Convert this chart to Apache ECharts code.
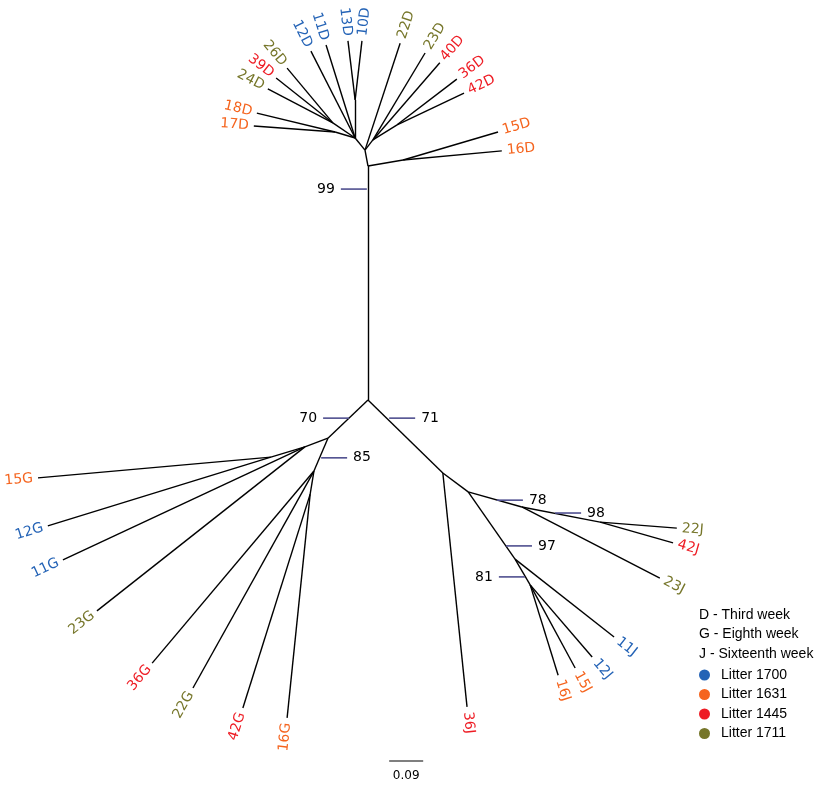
<!DOCTYPE html>
<html lang="en">
<head>
  <meta charset="UTF-8">
  <title>Unrooted tree - D / G / J samples</title>
  <script src="https://cdn.jsdelivr.net/npm/echarts@6.0.0/dist/echarts.min.js"></script>
  <style>
    html, body, #main {
      margin: 0;
      padding: 0;
      width: 100%;
      height: 100%;
      background: #fff;
    }
  </style>
</head>
<body>
  <div id="main"></div>

  <script>
    // tree nodes, root at (0, 0), units = substitutions per site
    const nodeName = [
      'root', 'a', 'b', 'c', 'n1', 'n2', 'n4', 't1', 't2', 's1',
      '17D', '18D', '24D', '39D', '26D', '12D', '11D', '13D', '10D',
      '22D', '23D', '40D', '36D', '42D', '15D', '16D',
      'l1', 'l2', 'l3', 'l4', 'l5',
      '15G', '12G', '11G', '23G', '36G', '22G', '42G', '16G',
      'r1', 'r2', 'r3', 'r4', 'r5', 'r6',
      '36J', '22J', '42J', '23J', '11J', '12J', '15J', '16J'
    ];
    const nodeParent = [
      null, 'root', 'a', 'b', 'c', 'c', 'c', 'b', 't1', 'a',
      'n1', 'n1', 'n2', 'n2', 'n2', 'c', 'c', 'n4', 'n4',
      'b', 't1', 't1', 't2', 't2', 's1', 's1',
      'root', 'l1', 'l2', 'l1', 'l4',
      'l3', 'l3', 'l2', 'l2', 'l4', 'l4', 'l5', 'l5',
      'root', 'r1', 'r2', 'r3', 'r2', 'r5',
      'r1', 'r4', 'r4', 'r3', 'r5', 'r6', 'r6', 'r6'
    ];
    const nodeX = [
      0, 0, -0.008, -0.034, -0.087, -0.093, -0.034, 0.013, 0.077, 0.093,
      -0.302, -0.294, -0.265, -0.243, -0.214, -0.151, -0.111, -0.053, -0.016,
      0.085, 0.151, 0.190, 0.235, 0.254, 0.344, 0.354,
      -0.106, -0.167, -0.257, -0.143, -0.153,
      -0.873, -0.847, -0.807, -0.717, -0.571, -0.463, -0.331, -0.214,
      0.198, 0.265, 0.407, 0.614, 0.389, 0.429,
      0.262, 0.817, 0.807, 0.772, 0.651, 0.593, 0.548, 0.503
    ];
    const nodeY = [
      0, 0.619, 0.661, 0.693, 0.709, 0.733, 0.794, 0.688, 0.728, 0.635,
      0.725, 0.759, 0.823, 0.852, 0.878, 0.923, 0.939, 0.950, 0.950,
      0.944, 0.918, 0.892, 0.849, 0.812, 0.709, 0.659,
      -0.101, -0.124, -0.151, -0.188, -0.249,
      -0.206, -0.333, -0.423, -0.558, -0.696, -0.762, -0.815, -0.841,
      -0.193, -0.243, -0.283, -0.323, -0.421, -0.489,
      -0.812, -0.339, -0.378, -0.471, -0.627, -0.680, -0.709, -0.728
    ];

    // bootstrap support, anchored on the branch it belongs to
    const bootValue = [99, 70, 85, 71, 78, 98, 97, 81];
    const bootX = [-0.003, -0.050, -0.124, 0.056, 0.341, 0.495, 0.365, 0.415];
    const bootY = [0.558, -0.048, -0.153, -0.048, -0.265, -0.299, -0.386, -0.468];
    const bootSide = [-1, -1, 1, 1, 1, 1, 1, -1];

    const litterNames = ['Litter 1700', 'Litter 1631', 'Litter 1445', 'Litter 1711'];
    const litterSamples = [[10, 11, 12, 13], [15, 16, 17, 18], [36, 39, 40, 42], [22, 23, 24, 26]];
    const litterColors = ['#2463b6', '#f5641e', '#ee1c24', '#76762a'];
    const weekLabels = ['D - Third week', 'G - Eighth week', 'J - Sixteenth week'];

    const scaleBarLength = 0.09;
    const scaleBarAt = [0.056, -0.955];

    const idx = name => nodeName.indexOf(name);

    const branches = [];
    nodeName.forEach((n, i) => {
      if (nodeParent[i] === null) return;
      const p = idx(nodeParent[i]);
      branches.push({ coords: [[nodeX[p], nodeY[p]], [nodeX[i], nodeY[i]]] });
    });

    // tips grouped by litter
    const tipNames = litterNames.map(() => []);
    const tipData = litterNames.map(() => []);
    nodeName.forEach((n, i) => {
      const num = parseInt(n, 10);
      if (isNaN(num)) return;
      const k = litterSamples.findIndex(s => s.includes(num));
      const p = idx(nodeParent[i]);
      tipNames[k].push(n);
      tipData[k].push([nodeX[i], nodeY[i], nodeX[p], nodeY[p]]);
    });

    const labelFont = '14px "DejaVu Sans"';

    function tipRenderer(k) {
      return function (params, api) {
        const tip = api.coord([api.value(0), api.value(1)]);
        const par = api.coord([api.value(2), api.value(3)]);
        const dx = tip[0] - par[0];
        const dy = tip[1] - par[1];
        const len = Math.hypot(dx, dy);
        const ang = Math.atan2(-dy, dx);
        const right = dx >= 0;
        return {
          type: 'text',
          x: tip[0] + dx / len * 5,
          y: tip[1] + dy / len * 5,
          rotation: right ? ang : ang + Math.PI,
          style: {
            text: tipNames[k][params.dataIndex],
            fill: litterColors[k],
            font: labelFont,
            align: right ? 'left' : 'right',
            verticalAlign: 'middle'
          }
        };
      };
    }

    const series = [{
      type: 'lines',
      coordinateSystem: 'cartesian2d',
      silent: true,
      lineStyle: { color: '#000', width: 1.4, opacity: 1 },
      data: branches,
      z: 2
    }];

    litterNames.forEach((ln, k) => {
      series.push({
        name: ln,
        type: 'custom',
        renderItem: tipRenderer(k),
        itemStyle: { color: litterColors[k] },
        data: tipData[k],
        z: 3
      });
    });

    series.push({
      type: 'custom',
      silent: true,
      data: bootValue.map((v, i) => [bootX[i], bootY[i], bootSide[i], v]),
      renderItem: function (params, api) {
        const a = api.coord([api.value(0), api.value(1)]);
        const side = api.value(2);
        const b = a[0] + side * 26;
        return {
          type: 'group',
          children: [{
            type: 'line',
            shape: { x1: a[0], y1: a[1], x2: b, y2: a[1] },
            style: { stroke: '#4f4f8f', lineWidth: 1.6 }
          }, {
            type: 'text',
            x: b + side * 6,
            y: a[1],
            style: {
              text: String(api.value(3)),
              fill: '#000',
              font: labelFont,
              align: side > 0 ? 'left' : 'right',
              verticalAlign: 'middle'
            }
          }]
        };
      },
      z: 4
    });

    series.push({
      type: 'custom',
      silent: true,
      data: [[scaleBarAt[0], scaleBarAt[1], scaleBarLength]],
      renderItem: function (params, api) {
        const a = api.coord([api.value(0), api.value(1)]);
        const b = api.coord([api.value(0) + api.value(2), api.value(1)]);
        return {
          type: 'group',
          children: [{
            type: 'line',
            shape: { x1: a[0], y1: a[1], x2: b[0], y2: b[1] },
            style: { stroke: '#000', lineWidth: 1.2 }
          }, {
            type: 'text',
            x: (a[0] + b[0]) / 2,
            y: a[1] + 15,
            style: {
              text: String(api.value(2)),
              fill: '#000',
              font: '12px "DejaVu Sans"',
              align: 'center',
              verticalAlign: 'middle'
            }
          }]
        };
      }
    });

    const chart = echarts.init(document.getElementById('main'));
    chart.setOption({
      animation: false,
      backgroundColor: '#fff',
      title: {
        text: weekLabels.join('\n'),
        left: 699,
        top: 605,
        padding: 0,
        textStyle: {
          fontFamily: 'Liberation Sans',
          fontSize: 14,
          fontWeight: 'normal',
          color: '#000',
          lineHeight: 19.5
        }
      },
      legend: {
        data: litterNames,
        orient: 'vertical',
        left: 699,
        top: 668,
        padding: 0,
        icon: 'circle',
        itemWidth: 11,
        itemHeight: 11,
        itemGap: 5.5,
        selectedMode: false,
        textStyle: {
          fontFamily: 'Liberation Sans',
          fontSize: 14,
          color: '#000',
          padding: [0, 0, 0, 6]
        }
      },
      grid: { left: 0, right: 0, top: 0, bottom: 0 },
      xAxis: { type: 'value', min: -0.9735, max: 1.1825, show: false },
      yAxis: { type: 'value', min: -1.0344, max: 1.0582, show: false },
      series: series
    });
  </script>
</body>
</html>
